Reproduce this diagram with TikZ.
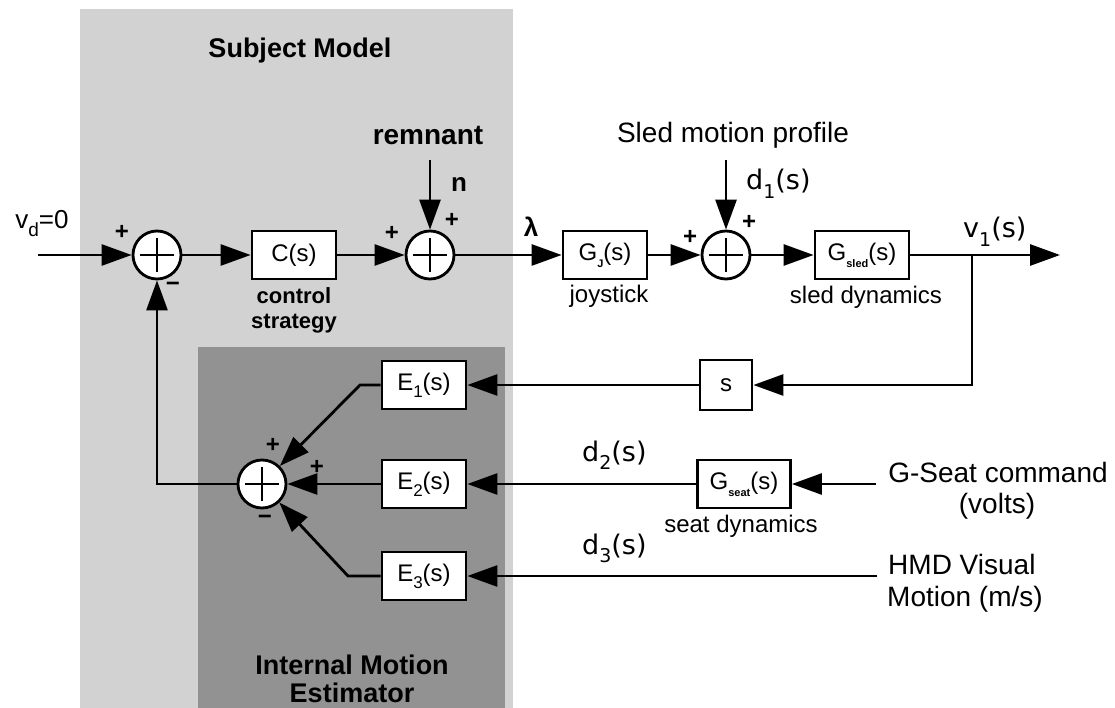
\documentclass[tikz,border=0pt]{standalone}
\usepackage{fontspec}
\setmainfont{Liberation Sans}
\newfontfamily\dvfont{DejaVu Sans}
\usetikzlibrary{arrows.meta}

\definecolor{modelgray}{HTML}{D2D2D2}
\definecolor{estgray}{HTML}{929292}

% lowered small subscripts for block and signal names
\newcommand{\gsub}[1]{\raisebox{-0.3em}{\fontsize{11}{11}\selectfont\bfseries #1}}
\newcommand{\esub}[1]{\raisebox{-0.3em}{\fontsize{17}{17}\selectfont #1}}
\newcommand{\dsub}[1]{\raisebox{-0.3em}{\fontsize{19}{19}\selectfont #1}}

\tikzset{
  wire/.style={line width=2.8pt},
  arr/.style={wire, -{Triangle[length=30pt,width=21pt]}},
  blk/.style={draw, line width=2.8pt, fill=white, minimum width=84pt,
    minimum height=48pt, inner sep=0pt, font=\fontsize{24}{28}\selectfont},
  sumnode/.style={circle, draw, line width=2.8pt, fill=white,
    minimum size=48pt, inner sep=0pt,
    path picture={\draw[line width=2.8pt]
      ([xshift=-17pt]path picture bounding box.center) --
      ([xshift=17pt]path picture bounding box.center)
      ([yshift=-17pt]path picture bounding box.center) --
      ([yshift=17pt]path picture bounding box.center);}},
  sgn/.style={inner sep=0pt, font=\fontsize{24}{24}\selectfont\bfseries},
  title/.style={inner sep=0pt, anchor=base, font=\fontsize{27}{30}\selectfont\bfseries},
  caption/.style={inner sep=0pt, anchor=base, font=\fontsize{24}{28}\selectfont},
  boldcap/.style={inner sep=0pt, anchor=base, font=\fontsize{22}{26}\selectfont\bfseries},
  biglbl/.style={inner sep=0pt, anchor=base, font=\fontsize{28}{32}\selectfont},
  sig/.style={inner sep=0pt, anchor=base west, font=\dvfont\fontsize{27}{30}\selectfont},
}

\begin{document}
\begin{tikzpicture}[x=1pt,y=-1pt]
\useasboundingbox (0,0) rectangle (1115,708);

% shaded regions: subject model and internal motion estimator
\fill[modelgray] (80,9) rectangle (513,708);
\fill[estgray] (198,347) rectangle (505,708);

% blocks and summing junctions
\node[sumnode] (s1) at (157,255) {};
\node[blk] (C) at (294,255) {C(s)};
\node[sumnode] (s2) at (430,255) {};
\node[blk] (GJ) at (605,255) {G\gsub{J}(s)};
\node[sumnode] (s3) at (726,255) {};
\node[blk, minimum width=94pt] (Gsled) at (862,255) {G\gsub{sled}(s)};
\node[blk, minimum width=52pt, minimum height=50pt] (sb) at (726,385) {s};
\node[blk] (E1) at (424,385) {E\esub{1}(s)};
\node[blk] (E2) at (424,484) {E\esub{2}(s)};
\node[blk] (E3) at (424,576) {E\esub{3}(s)};
\node[sumnode] (s4) at (262,484) {};
\node[blk, minimum width=93pt] (Gseat) at (744,484) {G\gsub{seat}(s)};

% free ends and bends
\coordinate (vin) at (38,255);
\coordinate (vout) at (1060,255);
\coordinate (tap) at (972,255);
\coordinate (ntop) at (430,160);
\coordinate (dtop) at (726,160);
\coordinate (e1bend) at (360,385);
\coordinate (e3bend) at (348,576);
\coordinate (gsin) at (876,484);
\coordinate (hmdin) at (877,576);

% forward path
\draw[arr] (vin) -- (s1);
\draw[arr] (s1) -- (C);
\draw[arr] (C) -- (s2);
\draw[arr] (s2) -- (GJ);
\draw[arr] (GJ) -- (s3);
\draw[arr] (s3) -- (Gsled);
\draw[arr] (Gsled) -- (vout);
\draw[arr] (ntop) -- (s2);
\draw[arr] (dtop) -- (s3);

% estimator paths
\draw[arr] (tap) |- (sb);
\draw[arr] (sb) -- (E1);
\draw[arr] (gsin) -- (Gseat);
\draw[arr] (Gseat) -- (E2);
\draw[arr] (hmdin) -- (E3);
\draw[arr] (E1) -- (e1bend) -- (s4);
\draw[arr] (E2) -- (s4);
\draw[arr] (E3) -- (e3bend) -- (s4);
\draw[arr] (s4) -| (s1);

% signs at the junctions
\node[sgn] at (122,232) {+};
\node[sgn] at (173,287) {−};
\node[sgn] at (392,233) {+};
\node[sgn] at (452,220) {+};
\node[sgn] at (690,237) {+};
\node[sgn] at (749,222) {+};
\node[sgn] at (273,445) {+};
\node[sgn] at (317,467) {+};
\node[sgn] at (265,520) {−};

% labels
\node[title] at (300,58) {Subject Model};
\node[title] at (352,674) {Internal Motion};
\node[title] at (352,702) {Estimator};
\node[title, font=\fontsize{28}{30}\selectfont\bfseries] at (428,145) {remnant};
\node[title, font=\fontsize{26}{30}\selectfont\bfseries] at (459,192) {n};
\node[boldcap] at (294,304) {control};
\node[boldcap] at (294,328) {strategy};
\node[biglbl, font=\fontsize{26}{30}\selectfont] at (42,229) {v\dsub{d}=0};
\node[biglbl, font=\fontsize{26}{30}\selectfont\bfseries] at (531,237) {λ};
\node[biglbl] at (733,143) {Sled motion profile};
\node[sig] at (746,190) {d\dsub{1}(s)};
\node[sig] at (963,238) {v\dsub{1}(s)};
\node[caption] at (609,302) {joystick};
\node[caption] at (866,303) {sled dynamics};
\node[caption] at (741,532) {seat dynamics};
\node[sig] at (582,461) {d\dsub{2}(s)};
\node[sig] at (582,554) {d\dsub{3}(s)};
\node[biglbl] at (998,482) {G-Seat command};
\node[biglbl] at (997,513) {(volts)};
\node[biglbl, anchor=base west] at (888,574) {HMD Visual};
\node[biglbl, anchor=base west] at (887,606) {Motion (m/s)};
\end{tikzpicture}
\end{document}
